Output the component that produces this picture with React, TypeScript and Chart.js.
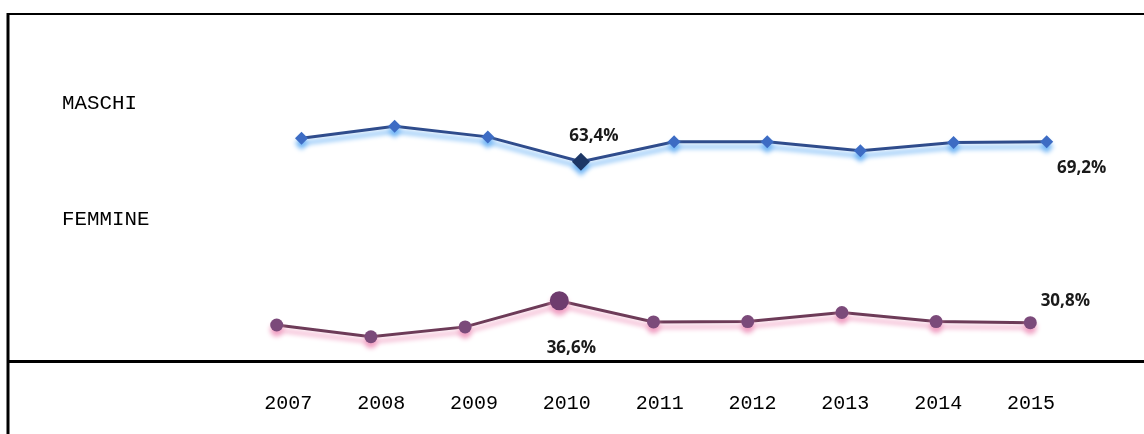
import React, { useEffect, useRef } from "react";
import { Chart, registerables } from "chart.js";

Chart.register(...registerables);

// ---- data ----
const years = [2007, 2008, 2009, 2010, 2011, 2012, 2013, 2014, 2015];
const maschi = [70.2, 73.7, 70.6, 63.4, 69.2, 69.2, 66.6, 69.0, 69.2];
const femmine = [30.2, 27.1, 29.7, 36.6, 31.0, 31.1, 33.5, 31.1, 30.8];
const seriesNames = ["MASCHI", "FEMMINE"];
const highlightYear = 2010;
const labeledYears = [2010, 2015];

// ---- styles ----
const MONO = "'Liberation Mono', 'Courier New', monospace";
const LABEL_FONT = "bold 17px 'Open Sans', 'Liberation Sans', sans-serif";
const labelOffsets: Record<string, Record<number, [number, number]>> = {
  MASCHI: { 2010: [13, -26], 2015: [35, 26] },
  FEMMINE: { 2010: [12, 47], 2015: [35, -22] },
};
const seriesNamePos: Record<string, [number, number]> = {
  MASCHI: [62, 108.5],
  FEMMINE: [62, 225],
};

const fmt = (v: number) => v.toFixed(1).replace(".", ",") + "%";

const framePlugin = {
  id: "frame",
  beforeDraw(chart: any) {
    const ctx = chart.ctx;
    ctx.save();
    ctx.fillStyle = "#fff";
    ctx.fillRect(0, 0, chart.width, chart.height);
    ctx.strokeStyle = "#000";
    ctx.lineWidth = 2;
    ctx.beginPath();
    ctx.moveTo(7, 14);
    ctx.lineTo(chart.width, 14);
    ctx.stroke();
    ctx.lineWidth = 3;
    ctx.beginPath();
    ctx.moveTo(8, 13);
    ctx.lineTo(8, chart.height);
    ctx.stroke();
    ctx.beginPath();
    ctx.moveTo(8, chart.chartArea.bottom + 0.5);
    ctx.lineTo(chart.width, chart.chartArea.bottom + 0.5);
    ctx.stroke();
    // series names
    ctx.fillStyle = "#000";
    ctx.font = `20.8px ${MONO}`;
    ctx.textAlign = "left";
    ctx.textBaseline = "alphabetic";
    chart.data.datasets.forEach((ds: any) => {
      const p = seriesNamePos[ds.label];
      if (p) ctx.fillText(ds.label, p[0], p[1]);
    });
    ctx.restore();
  },
};

const glowPlugin = {
  id: "glow",
  beforeDatasetDraw(chart: any, args: any) {
    const ds = chart.data.datasets[args.index];
    const ctx = chart.ctx;
    ctx.save();
    ctx.shadowColor = ds.glowColor;
    ctx.shadowBlur = 5;
    ctx.shadowOffsetX = 0;
    ctx.shadowOffsetY = 5;
  },
  afterDatasetDraw(chart: any) {
    chart.ctx.restore();
  },
};

const valueLabelPlugin = {
  id: "valueLabels",
  afterDatasetsDraw(chart: any) {
    const ctx = chart.ctx;
    ctx.save();
    ctx.font = LABEL_FONT;
    ctx.fillStyle = "#1a1a1a";
    ctx.textAlign = "center";
    ctx.textBaseline = "middle";
    chart.data.datasets.forEach((ds: any, di: number) => {
      const meta = chart.getDatasetMeta(di);
      ds.data.forEach((pt: any, i: number) => {
        if (!labeledYears.includes(pt.x)) return;
        const el = meta.data[i];
        const off = labelOffsets[ds.label][pt.x];
        ctx.fillText(fmt(pt.y), el.x + off[0], el.y + off[1]);
      });
    });
    ctx.restore();
  },
};

export default function App() {
  const ref = useRef<HTMLCanvasElement>(null);
  useEffect(() => {
    if (!ref.current) return;
    const chart = new Chart(ref.current, {
      type: "line",
      data: {
        datasets: [
          {
            label: seriesNames[0],
            data: years.map((y, i) => ({ x: y, y: maschi[i] })),
            xAxisID: "xm",
            yAxisID: "ym",
            borderColor: "#2f4c8c",
            borderWidth: 3,
            pointStyle: "rectRot",
            pointRadius: years.map((y) => (y === highlightYear ? 9 : 6.5)),
            pointBackgroundColor: years.map((y) => (y === highlightYear ? "#1d3766" : "#3d6cc4")),
            pointBorderWidth: 0,
            tension: 0,
            clip: false,
            glowColor: "rgba(110,180,245,1)",
          } as any,
          {
            label: seriesNames[1],
            data: years.map((y, i) => ({ x: y, y: femmine[i] })),
            xAxisID: "xf",
            yAxisID: "yf",
            borderColor: "#6d3b58",
            borderWidth: 3,
            pointStyle: "circle",
            pointRadius: years.map((y) => (y === highlightYear ? 9.5 : 6.5)),
            pointBackgroundColor: years.map((y) => (y === highlightYear ? "#6e3c6e" : "#7b4a7a")),
            pointBorderWidth: 0,
            tension: 0,
            clip: false,
            glowColor: "rgba(240,160,195,1)",
          } as any,
        ],
      },
      options: {
        animation: false,
        responsive: false,
        layout: { padding: 0, autoPadding: false },
        plugins: { legend: { display: false }, tooltip: { enabled: false } },
        scales: {
          xm: { type: "linear", display: false, min: 2003.7633, max: 2016.0446 },
          xf: { type: "linear", display: false, min: 2004.0626, max: 2016.207 },
          xl: {
            type: "linear",
            position: "bottom",
            min: 2003.8946,
            max: 2016.2169,
            grid: { display: false, drawTicks: false },
            border: { display: false },
            afterBuildTicks: (s: any) => {
              s.ticks = years.map((y) => ({ value: y }));
            },
            afterFit: (s: any) => {
              s.height = 73;
            },
            ticks: {
              autoSkip: false,
              maxRotation: 0,
              padding: 31,
              color: "#000",
              font: { family: MONO, size: 20 },
              callback: (v: any) => String(v),
            },
          },
          ym: { type: "linear", display: false, min: 5.6, max: 110.3 },
          yf: { type: "linear", display: false, min: 20.7, max: 115.95 },
        },
      },
      plugins: [framePlugin, glowPlugin, valueLabelPlugin],
    });
    return () => chart.destroy();
  }, []);
  return (
    <div style={{ position: "absolute", left: 0, top: 0, width: 1144, height: 434 }}>
      <canvas ref={ref} width={1144} height={434} style={{ display: "block" }} />
    </div>
  );
}
